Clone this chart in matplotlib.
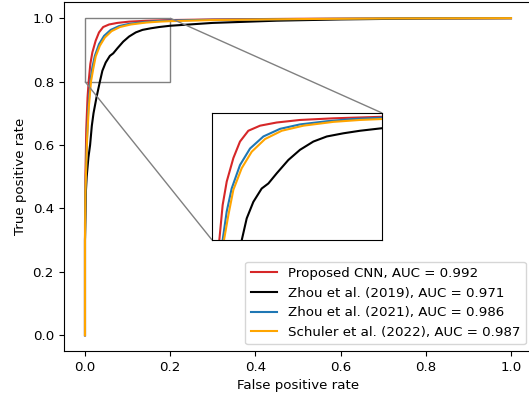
import matplotlib
matplotlib.use('Agg')
import matplotlib.pyplot as plt
from mpl_toolkits.axes_grid1.inset_locator import mark_inset

plt.rcParams['font.size'] = 9.6

# ROC points (fpr, tpr)
fpr_cnn = [0, 0, 0.001, 0.003, 0.006, 0.0086, 0.0125, 0.0173, 0.0251, 0.0329, 0.0427,
           0.0565, 0.0761, 0.1035, 0.1427, 0.2, 0.3, 0.5, 0.7, 1.0]
tpr_cnn = [0, 0.35, 0.5, 0.65, 0.75, 0.8, 0.855, 0.892, 0.929, 0.955, 0.972,
           0.98, 0.985, 0.989, 0.9916, 0.994, 0.996, 0.998, 0.999, 1.0]

fpr_z19 = [0, 0, 0.002, 0.004, 0.008, 0.012, 0.016, 0.02, 0.027, 0.035, 0.0408, 0.0486,
           0.0584, 0.0663, 0.0761, 0.0898, 0.1035, 0.1192, 0.135, 0.1545, 0.174, 0.2,
           0.3, 0.45, 0.6, 0.8, 1.0]
tpr_z19 = [0, 0.3, 0.45, 0.5, 0.56, 0.6, 0.66, 0.7, 0.75, 0.8, 0.834, 0.86,
           0.881, 0.889, 0.905, 0.926, 0.942, 0.955, 0.963, 0.968, 0.972, 0.976,
           0.985, 0.992, 0.996, 0.999, 1.0]

fpr_z21 = [0, 0, 0.001, 0.004, 0.008, 0.0125, 0.0173, 0.0231, 0.0329, 0.0447, 0.0604,
           0.08, 0.1035, 0.135, 0.166, 0.2, 0.3, 0.5, 0.7, 1.0]
tpr_z21 = [0, 0.3, 0.45, 0.6, 0.72, 0.8, 0.845, 0.881, 0.918, 0.944, 0.963,
           0.975, 0.982, 0.987, 0.9905, 0.9926, 0.995, 0.997, 0.999, 1.0]

fpr_s22 = [0, 0, 0.001, 0.005, 0.009, 0.0141, 0.0192, 0.0251, 0.0349, 0.0467, 0.0624,
           0.082, 0.1075, 0.1427, 0.174, 0.2, 0.3, 0.5, 0.7, 1.0]
tpr_s22 = [0, 0.3, 0.45, 0.62, 0.72, 0.8, 0.839, 0.879, 0.913, 0.939, 0.959,
           0.972, 0.98, 0.986, 0.989, 0.9905, 0.994, 0.997, 0.999, 1.0]

labels = ['Proposed CNN, AUC = 0.992', 'Zhou et al. (2019), AUC = 0.971',
          'Zhou et al. (2021), AUC = 0.986', 'Schuler et al. (2022), AUC = 0.987']
colors = ['tab:red', 'black', 'tab:blue', 'orange']
curves = [(fpr_cnn, tpr_cnn), (fpr_z19, tpr_z19), (fpr_z21, tpr_z21), (fpr_s22, tpr_s22)]

fig = plt.figure(figsize=(5.29, 3.96), dpi=100)
ax = fig.add_axes([0.1204, 0.1136, 0.8858, 0.8806])
for (x, y), c, lab in zip(curves, colors, labels):
    ax.plot(x, y, color=c, lw=1.5, label=lab)
ax.set_xlabel('False positive rate')
ax.set_ylabel('True positive rate')
ax.legend(loc='lower right')

# zoomed inset
axins = fig.add_axes([0.4008, 0.394, 0.3214, 0.3207])
for (x, y), c in zip(curves, colors):
    axins.plot(x, y, color=c, lw=1.5)
axins.set_xlim(0, 0.2)
axins.set_ylim(0.8, 1.0)
axins.set_xticks([])
axins.set_yticks([])
mark_inset(ax, axins, loc1=1, loc2=3, fc='none', ec='0.5')

fig.savefig('out.png', dpi=100)
